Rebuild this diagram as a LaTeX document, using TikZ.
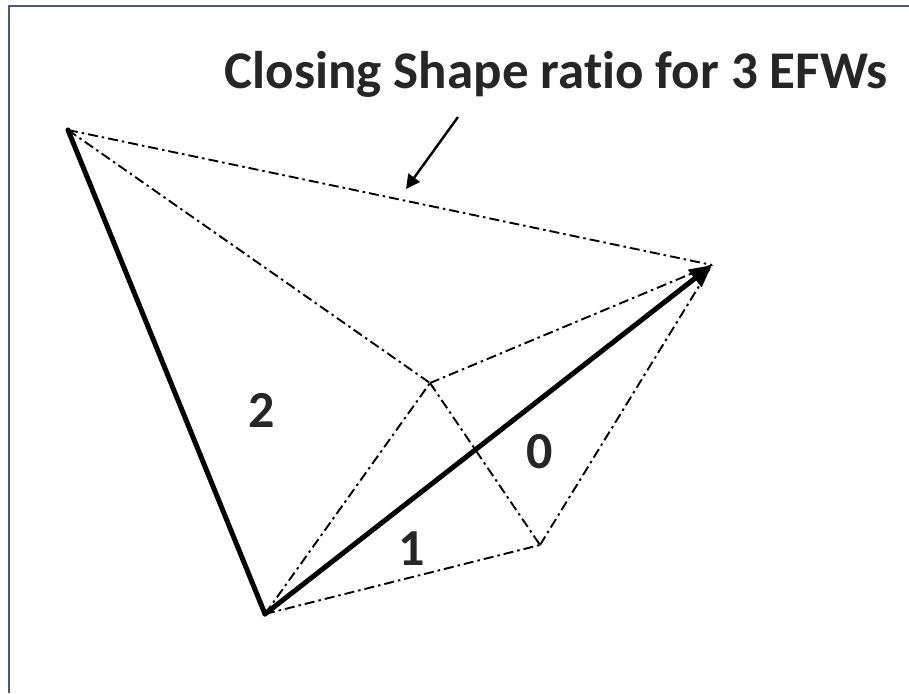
\documentclass[tikz,border=0pt]{standalone}
\usepackage{fontspec}
\setmainfont{Carlito}[Ligatures=NoCommon]
\usetikzlibrary{arrows.meta}
\definecolor{frame}{HTML}{4A5A70}
\definecolor{txt}{HTML}{262626}
\begin{document}
\begin{tikzpicture}[x=1pt,y=-1pt,
  thin dd/.style={line width=1.9pt, dash pattern=on 10pt off 4pt on 2.5pt off 4pt},
  thickline/.style={line width=5pt, line cap=round, line join=round},
  lbl/.style={font=\fontsize{52}{56}\selectfont\bfseries, text=txt, inner sep=0pt}]
\useasboundingbox (0,0) rectangle (909,693);
\fill[white] (0,0) rectangle (909,693);
\draw[frame, line width=2.4pt] (9,693) -- (9,6) -- (909,6);
\coordinate (A) at (68,130);
\coordinate (B) at (265,614);
\coordinate (C) at (712,265);
\coordinate (D) at (430,383);
\coordinate (E) at (540,545);
\coordinate (P1) at (458,117);
\coordinate (P2) at (406,189);
\node[font=\fontsize{53}{60}\selectfont\bfseries, text=txt, inner sep=0pt] (title) at (556,74) {Closing Shape ratio for 3 EFWs};
\node[lbl] (l2) at (262,410) {2};
\node[lbl] (l0) at (540,452) {0};
\node[lbl] (l1) at (412,549) {1};
\draw[thin dd] (A) -- (C);
\draw[thin dd] (A) -- (D);
\draw[thin dd] (D) -- (C);
\draw[thin dd] (D) -- (E);
\draw[thin dd] (E) -- (C);
\draw[thin dd] (B) -- (E);
\draw[thin dd] (B) -- (D);
\draw[thickline] (A) -- (B);
\draw[line width=5pt, line cap=round, -{Triangle[length=22pt,width=21pt]}] (B) -- (C);
\draw[line width=2.4pt, -{Triangle[length=14pt,width=14pt]}] (P1) -- (P2);
\end{tikzpicture}
\end{document}
